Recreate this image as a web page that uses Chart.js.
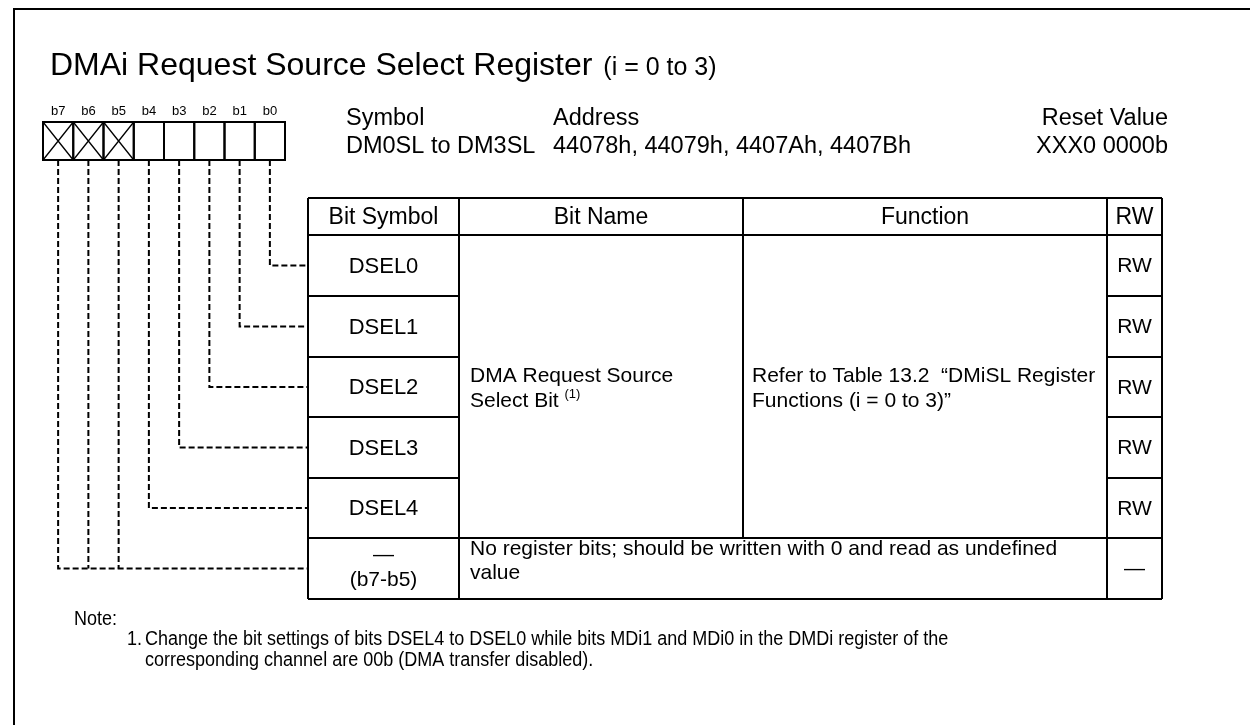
<!DOCTYPE html>
<html>
<head>
<meta charset="utf-8">
<script src="https://cdn.jsdelivr.net/npm/chart.js@4.4.1/dist/chart.umd.min.js"></script>
<style>
  html, body { margin: 0; padding: 0; background: #fff; }
  #wrap { width: 1250px; height: 725px; }
</style>
</head>
<body>
<div id="wrap"><canvas id="reg" width="1250" height="725"></canvas></div>
<script>
// Register data
const titleMain = 'DMAi Request Source Select Register';
const titleSub = '(i = 0 to 3)';
const bitLabels = ['b7', 'b6', 'b5', 'b4', 'b3', 'b2', 'b1', 'b0'];
const reservedBits = ['b7', 'b6', 'b5'];
const infoHeads = ['Symbol', 'Address', 'Reset Value'];
const infoValues = ['DM0SL to DM3SL', '44078h, 44079h, 4407Ah, 4407Bh', 'XXX0 0000b'];
const tableHeads = ['Bit Symbol', 'Bit Name', 'Function', 'RW'];
const bitSymbols = ['DSEL0', 'DSEL1', 'DSEL2', 'DSEL3', 'DSEL4'];
const bitAccess = ['RW', 'RW', 'RW', 'RW', 'RW'];
const bitNameLines = ['DMA Request Source', 'Select Bit'];
const bitNameNote = '(1)';
const functionLines = ['Refer to Table 13.2  \u201CDMiSL Register', 'Functions (i = 0 to 3)\u201D'];
const reservedSymbol = ['\u2014', '(b7-b5)'];
const reservedText = ['No register bits; should be written with 0 and read as undefined', 'value'];
const reservedAccess = '\u2014';
const noteHead = 'Note:';
const noteNumber = '1.';
const noteLines = [
    'Change the bit settings of bits DSEL4 to DSEL0 while bits MDi1 and MDi0 in the DMDi register of the',
    'corresponding channel are 00b (DMA transfer disabled).'
];

// Layout (page pixels)
const FONT = "'Liberation Sans', Arial, sans-serif";
const BOX_LEFT = 43, BOX_CELL = 30.25, BOX_TOP = 122, BOX_BOTTOM = 160;
const COL_X = [308, 459, 743, 1107, 1162];
const ROW_Y = [198, 235, 296, 357, 417, 478, 538, 599];

const bitCenter = i => BOX_LEFT + BOX_CELL * (i + 0.5);
const rowCenter = r => (ROW_Y[r + 1] + ROW_Y[r + 2]) / 2;   // r = 0 -> first data row

// Dashed leader lines, one dataset per bit
const leaderSets = bitLabels.map((lbl, i) => {
    const reserved = reservedBits.includes(lbl);
    const row = reserved ? bitSymbols.length : bitSymbols.indexOf('DSEL' + lbl.slice(1));
    const x = bitCenter(i);
    const y = rowCenter(row);
    const pts = [{ x, y: BOX_BOTTOM }, { x, y }];
    // only the outermost reserved bit carries the shared horizontal run
    if (!reserved || i === 0) pts.push({ x: COL_X[0], y });
    return {
        data: pts,
        showLine: true,
        borderColor: '#000',
        borderWidth: 2,
        borderDash: [6, 3],
        pointRadius: 0,
        fill: false
    };
});

const diagramPlugin = {
    id: 'registerDiagram',
    afterDraw(chart) {
        const ctx = chart.ctx;
        const sx = chart.scales.x, sy = chart.scales.y;
        const px = v => sx.getPixelForValue(v);
        const py = v => sy.getPixelForValue(v);

        ctx.save();
        ctx.strokeStyle = '#000';
        ctx.fillStyle = '#000';
        ctx.lineCap = 'butt';

        // outer frame (runs off right and bottom)
        ctx.lineWidth = 2;
        ctx.strokeRect(px(14), py(9), px(1300) - px(14), py(800) - py(9));

        // title
        ctx.textBaseline = 'alphabetic';
        ctx.textAlign = 'left';
        ctx.font = '32px ' + FONT;
        ctx.fillText(titleMain, px(50), py(75));
        const tw = ctx.measureText(titleMain + ' ').width;
        ctx.font = '25px ' + FONT;
        ctx.fillText(titleSub, px(52) + tw, py(75));

        // bit numbers and boxes
        ctx.font = '13px ' + FONT;
        ctx.textAlign = 'center';
        bitLabels.forEach((lbl, i) => ctx.fillText(lbl, px(bitCenter(i)), py(115)));
        ctx.lineWidth = 2;
        bitLabels.forEach((lbl, i) => {
            const x0 = px(BOX_LEFT + BOX_CELL * i), x1 = px(BOX_LEFT + BOX_CELL * (i + 1));
            ctx.strokeRect(x0, py(BOX_TOP), x1 - x0, py(BOX_BOTTOM) - py(BOX_TOP));
            if (reservedBits.includes(lbl)) {
                ctx.lineWidth = 1.3;
                ctx.beginPath();
                ctx.moveTo(x0, py(BOX_TOP)); ctx.lineTo(x1, py(BOX_BOTTOM));
                ctx.moveTo(x1, py(BOX_TOP)); ctx.lineTo(x0, py(BOX_BOTTOM));
                ctx.stroke();
                ctx.lineWidth = 2;
            }
        });

        // symbol / address / reset value
        ctx.font = '23.5px ' + FONT;
        ctx.textAlign = 'left';
        ctx.fillText(infoHeads[0], px(346), py(125));
        ctx.fillText(infoValues[0], px(346), py(153));
        ctx.fillText(infoHeads[1], px(553), py(125));
        ctx.fillText(infoValues[1], px(553), py(153));
        ctx.textAlign = 'right';
        ctx.fillText(infoHeads[2], px(1168), py(125));
        ctx.fillText(infoValues[2], px(1168), py(153));

        // table grid
        ctx.lineWidth = 2;
        const L = px(COL_X[0]), R = px(COL_X[4]);
        const line = (x0, y0, x1, y1) => { ctx.beginPath(); ctx.moveTo(x0, y0); ctx.lineTo(x1, y1); ctx.stroke(); };
        line(L, py(ROW_Y[0]), R, py(ROW_Y[0]));
        line(L, py(ROW_Y[1]), R, py(ROW_Y[1]));
        for (let r = 2; r < ROW_Y.length - 2; r++) {
            line(L, py(ROW_Y[r]), px(COL_X[1]), py(ROW_Y[r]));
            line(px(COL_X[3]), py(ROW_Y[r]), R, py(ROW_Y[r]));
        }
        line(L, py(ROW_Y[6]), R, py(ROW_Y[6]));
        line(L, py(ROW_Y[7]), R, py(ROW_Y[7]));
        line(L, py(ROW_Y[0]), L, py(ROW_Y[7]));
        line(px(COL_X[1]), py(ROW_Y[0]), px(COL_X[1]), py(ROW_Y[7]));
        line(px(COL_X[2]), py(ROW_Y[0]), px(COL_X[2]), py(ROW_Y[6]));
        line(px(COL_X[3]), py(ROW_Y[0]), px(COL_X[3]), py(ROW_Y[7]));
        line(R, py(ROW_Y[0]), R, py(ROW_Y[7]));

        // header row
        ctx.font = '23px ' + FONT;
        ctx.textAlign = 'center';
        ctx.textBaseline = 'middle';
        const hy = py((ROW_Y[0] + ROW_Y[1]) / 2 + 1);
        tableHeads.forEach((h, c) => ctx.fillText(h, px((COL_X[c] + COL_X[c + 1]) / 2), hy));

        // bit rows
        bitSymbols.forEach((s, r) => {
            const y = py(rowCenter(r) + 1);
            ctx.font = '22px ' + FONT;
            ctx.fillText(s, px((COL_X[0] + COL_X[1]) / 2), y);
            ctx.font = '21px ' + FONT;
            ctx.fillText(bitAccess[r], px((COL_X[3] + COL_X[4]) / 2), y);
        });

        // merged name / function cells
        ctx.font = '21px ' + FONT;
        ctx.textAlign = 'left';
        ctx.textBaseline = 'alphabetic';
        ctx.fillText(bitNameLines[0], px(470), py(382));
        ctx.fillText(bitNameLines[1], px(470), py(407));
        const nw = ctx.measureText(bitNameLines[1] + ' ').width;
        ctx.fillText(functionLines[0], px(752), py(382));
        ctx.fillText(functionLines[1], px(752), py(407));
        ctx.font = '13px ' + FONT;
        ctx.fillText(bitNameNote, px(470) + nw, py(398));

        // reserved row
        ctx.font = '21px ' + FONT;
        ctx.textAlign = 'center';
        ctx.fillText(reservedSymbol[0], px((COL_X[0] + COL_X[1]) / 2), py(561));
        ctx.fillText(reservedSymbol[1], px((COL_X[0] + COL_X[1]) / 2), py(586));
        ctx.fillText(reservedAccess, px((COL_X[3] + COL_X[4]) / 2), py(575));
        ctx.textAlign = 'left';
        ctx.fillText(reservedText[0], px(470), py(555));
        ctx.fillText(reservedText[1], px(470), py(579));

        // note, in a slightly condensed face
        ctx.font = '20px ' + FONT;
        const narrow = (txt, x, y) => {
            ctx.save();
            ctx.translate(px(x), py(y));
            ctx.scale(0.9, 1);
            ctx.fillText(txt, 0, 0);
            ctx.restore();
        };
        narrow(noteHead, 74, 625);
        narrow(noteNumber, 127, 645);
        narrow(noteLines[0], 145, 645);
        narrow(noteLines[1], 145, 666);

        ctx.restore();
    }
};

new Chart(document.getElementById('reg'), {
    type: 'scatter',
    data: { datasets: leaderSets },
    options: {
        responsive: false,
        animation: false,
        layout: { padding: 0 },
        plugins: { legend: { display: false }, tooltip: { enabled: false } },
        scales: {
            x: { type: 'linear', min: 0, max: 1250, display: false },
            y: { type: 'linear', min: 0, max: 725, reverse: true, display: false }
        }
    },
    plugins: [diagramPlugin]
});
</script>
</body>
</html>
